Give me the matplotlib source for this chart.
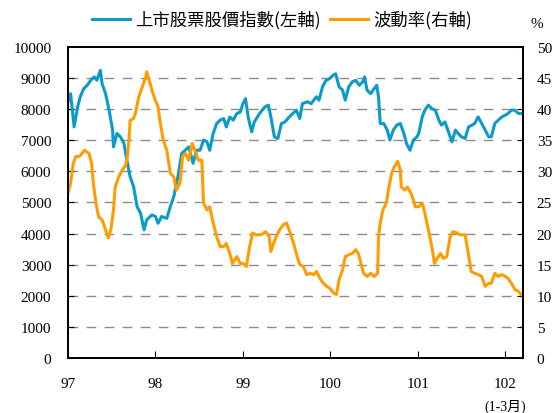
import matplotlib
matplotlib.use("Agg")
import matplotlib.pyplot as plt
from matplotlib.lines import Line2D

# 上市股票股價指數 (left axis), x in ROC year fractions
idx_x = [97.00, 97.03, 97.07, 97.11, 97.14, 97.18, 97.22, 97.26, 97.30, 97.33,
         97.37, 97.39, 97.43, 97.47, 97.51, 97.52, 97.56, 97.60, 97.64, 97.68,
         97.71, 97.75, 97.79, 97.83, 97.87, 97.90, 97.94, 97.96, 98.00, 98.03,
         98.07, 98.13, 98.17, 98.21, 98.26, 98.30, 98.34, 98.38, 98.43, 98.47,
         98.51, 98.55, 98.59, 98.62, 98.66, 98.70, 98.74, 98.78, 98.81, 98.85,
         98.89, 98.93, 98.97, 99.00, 99.03, 99.06, 99.10, 99.13, 99.19, 99.25,
         99.29, 99.32, 99.36, 99.40, 99.44, 99.48, 99.53, 99.57, 99.61, 99.65,
         99.68, 99.74, 99.78, 99.84, 99.87, 99.91, 99.95, 99.99, 100.03, 100.06,
         100.10, 100.14, 100.17, 100.21, 100.25, 100.29, 100.33, 100.37, 100.39, 100.42,
         100.46, 100.50, 100.53, 100.55, 100.57, 100.61, 100.65, 100.68, 100.72, 100.76,
         100.80, 100.84, 100.87, 100.91, 100.95, 100.99, 101.01, 101.05, 101.08, 101.12,
         101.16, 101.20, 101.24, 101.27, 101.31, 101.35, 101.39, 101.43, 101.46, 101.50,
         101.54, 101.58, 101.62, 101.65, 101.69, 101.73, 101.77, 101.81, 101.84, 101.88,
         101.92, 101.96, 102.00, 102.03, 102.07, 102.11, 102.15, 102.18]
idx_val = [8240, 8500, 7430, 8070, 8400, 8660, 8770, 8930, 9040, 8930,
           9250, 8820, 8500, 7970, 7330, 6790, 7220, 7110, 6900, 6260,
           5830, 5510, 4870, 4650, 4120, 4440, 4550, 4600, 4550, 4330,
           4550, 4490, 4870, 5190, 5880, 6580, 6680, 6790, 6260, 6680,
           6680, 7010, 6950, 6680, 7220, 7540, 7650, 7700, 7430, 7750,
           7650, 7860, 7910, 8180, 8340, 7750, 7270, 7590, 7860, 8070,
           8130, 7750, 7110, 7060, 7540, 7590, 7750, 7860, 7970, 7700,
           8180, 8240, 8180, 8400, 8290, 8720, 8930, 8980, 9090, 9140,
           8720, 8610, 8290, 8720, 8880, 8930, 8770, 8880, 9040, 8610,
           8500, 8660, 8770, 8400, 7540, 7540, 7330, 7010, 7330, 7490,
           7540, 7220, 6900, 6680, 7010, 7110, 7220, 7750, 7970, 8130,
           8020, 7970, 7650, 7490, 7590, 7270, 6950, 7330, 7220, 7110,
           7060, 7430, 7490, 7540, 7750, 7540, 7330, 7110, 7110, 7540,
           7650, 7750, 7810, 7860, 7970, 7970, 7860, 7860]

# 波動率 (right axis, %)
vol_x = [97.00, 97.03, 97.06, 97.09, 97.13, 97.16, 97.19, 97.24, 97.27, 97.29,
         97.32, 97.35, 97.39, 97.43, 97.46, 97.49, 97.52, 97.54, 97.58, 97.62,
         97.66, 97.68, 97.70, 97.71, 97.75, 97.77, 97.81, 97.85, 97.89, 97.90,
         97.94, 97.96, 98.00, 98.03, 98.05, 98.09, 98.13, 98.17, 98.21, 98.24,
         98.28, 98.31, 98.34, 98.38, 98.42, 98.45, 98.49, 98.53, 98.55, 98.59,
         98.62, 98.66, 98.70, 98.74, 98.78, 98.81, 98.85, 98.88, 98.93, 98.97,
         99.00, 99.04, 99.07, 99.11, 99.15, 99.21, 99.26, 99.30, 99.32, 99.35,
         99.38, 99.42, 99.46, 99.50, 99.54, 99.58, 99.62, 99.65, 99.69, 99.73,
         99.77, 99.81, 99.84, 99.88, 99.92, 99.96, 100.00, 100.04, 100.07, 100.10,
         100.14, 100.17, 100.21, 100.25, 100.29, 100.32, 100.35, 100.38, 100.42, 100.46,
         100.50, 100.54, 100.55, 100.57, 100.60, 100.64, 100.67, 100.70, 100.73, 100.77,
         100.80, 100.81, 100.85, 100.88, 100.92, 100.95, 100.97, 101.01, 101.05, 101.08,
         101.12, 101.16, 101.19, 101.22, 101.26, 101.29, 101.33, 101.37, 101.40, 101.45,
         101.48, 101.54, 101.57, 101.61, 101.65, 101.69, 101.73, 101.77, 101.81, 101.84,
         101.88, 101.92, 101.96, 102.00, 102.03, 102.07, 102.11, 102.15, 102.18]
vol_val = [26.5, 28.1, 31.3, 32.4, 32.4, 32.9, 33.4, 32.9, 31.3, 28.1,
           24.9, 22.7, 22.2, 20.6, 19.3, 20.6, 23.8, 27.5, 29.1, 30.2,
           31.0, 32.4, 35.6, 38.2, 38.5, 39.3, 42.0, 43.6, 45.2, 46.0,
           44.1, 43.0, 41.4, 40.4, 38.2, 35.0, 33.4, 29.7, 29.1, 27.0,
           28.1, 32.4, 32.9, 31.8, 34.5, 33.4, 31.8, 31.8, 24.9, 23.8,
           24.3, 21.7, 19.5, 17.9, 17.9, 18.4, 16.8, 15.2, 16.3, 15.2,
           15.2, 14.7, 17.4, 20.1, 19.8, 19.8, 20.3, 19.5, 17.1, 18.4,
           19.5, 20.6, 21.4, 21.7, 20.1, 18.4, 16.3, 15.0, 14.7, 13.4,
           13.6, 13.4, 13.9, 12.8, 12.0, 11.5, 11.1, 10.4, 10.2, 12.6,
           14.2, 16.3, 16.6, 16.8, 17.4, 16.8, 15.2, 13.6, 13.1, 13.6,
           13.1, 13.6, 19.5, 21.7, 23.8, 24.9, 27.5, 29.7, 30.7, 31.6,
           30.2, 27.5, 27.0, 27.5, 26.5, 25.4, 24.3, 24.3, 24.9, 23.3,
           20.6, 17.9, 15.2, 16.0, 16.8, 16.0, 16.3, 19.5, 20.3, 20.1,
           19.8, 19.8, 17.4, 13.9, 13.6, 13.4, 13.1, 11.5, 12.0, 12.0,
           13.6, 13.1, 13.4, 13.1, 12.8, 12.0, 11.0, 10.7, 10.2]

year_ticks = [97, 98, 99, 100, 101, 102]
left_ticks = list(range(0, 10001, 1000))
right_ticks = list(range(0, 51, 5))

blue = '#0A9BCB'
orange = '#FF9C00'
serif = 'Liberation Serif'
cjk = ['Noto Sans CJK TC', 'DejaVu Sans']

fig = plt.figure(figsize=(5.55, 4.14), dpi=100)
ax = fig.add_axes([0.1225, 0.133, 0.8195, 0.751])
ax2 = ax.twinx()

ax.plot(idx_x, idx_val, color=blue, lw=2.2, solid_joinstyle='round')
ax2.plot(vol_x, vol_val, color=orange, lw=2.2, solid_joinstyle='round')

ax.set_xlim(97, 102.2)
ax.set_ylim(0, 10000)
ax2.set_ylim(0, 50)
ax.set_xticks(year_ticks)
ax.set_xticklabels([str(y) for y in year_ticks], family=serif, fontsize=11)
ax.set_yticks(left_ticks)
ax.set_yticklabels([str(v) for v in left_ticks], family=serif, fontsize=11)
ax2.set_yticks(right_ticks)
ax2.set_yticklabels([str(v) for v in right_ticks], family=serif, fontsize=11)

for v in left_ticks[1:-1]:
    ax.axhline(v, color='#8c8c8c', lw=1.0, dashes=(7, 6), zorder=0)

ax.tick_params(axis='x', direction='in', length=5, pad=14, color='black')
ax.tick_params(axis='y', direction='in', length=4, pad=12)
ax2.tick_params(axis='y', direction='in', length=4, pad=10)
for a in (ax, ax2):
    for s in a.spines.values():
        s.set_linewidth(1.3)
        s.set_color('black')

fig.text(0.968, 0.94, '%', family=serif, fontsize=11, ha='center', va='center')
fig.text(0.91, 0.016, '(1-3月)', family=[serif, 'Noto Sans CJK TC'], fontsize=10,
         ha='center', va='center')

handles = [Line2D([], [], color=blue, lw=2.2), Line2D([], [], color=orange, lw=2.2)]
fig.legend(handles, ['上市股票股價指數(左軸)', '波動率(右軸)'], ncol=2,
           loc='center', bbox_to_anchor=(0.508, 0.95), frameon=False,
           prop={'family': cjk, 'size': 12.5}, handlelength=2.2, handletextpad=0.3,
           columnspacing=0.5)

fig.savefig('out.png', dpi=100)
